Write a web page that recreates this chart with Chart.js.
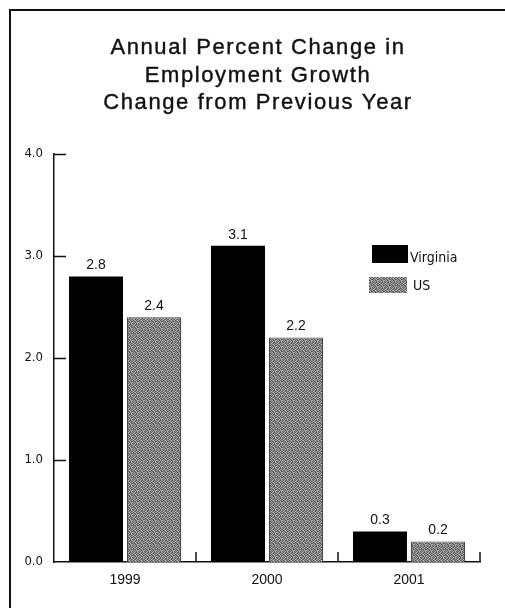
<!DOCTYPE html>
<html>
<head>
<meta charset="utf-8">
<script src="https://cdn.jsdelivr.net/npm/chart.js@4/dist/chart.umd.min.js"></script>
<style>
  html, body { margin: 0; padding: 0; background: #fff; }
  #wrap { position: relative; width: 505px; height: 608px; overflow: hidden; }
  #frame { position: absolute; left: 9px; top: 9px; width: 600px; height: 700px;
           border-top: 2px solid #111; border-left: 2px solid #111; pointer-events: none; }
  canvas { position: absolute; left: 0; top: 0; }
</style>
</head>
<body>
<div id="wrap">
  <canvas id="chart" width="505" height="608"></canvas>
  <div id="frame"></div>
</div>
<script>
// Employment growth, annual percent change
const years = ['1999', '2000', '2001'];
const virginia = [2.8, 3.1, 0.3];
const us = [2.4, 2.2, 0.2];
const yTicks = [0, 1, 2, 3, 4];
const titleLines = ['Annual Percent Change in', 'Employment Growth', 'Change from Previous Year'];
const seriesNames = ['Virginia', 'US'];

// Speckled grey fill for the US bars
function makeGrain() {
  const c = document.createElement('canvas');
  c.width = 6; c.height = 6;
  const g = c.getContext('2d');
  const shades = [
    140,  90, 180, 115,  75, 160,
    105, 190, 125,  85, 165, 110,
    170,  80, 135, 200, 100, 130,
     95, 150,  90, 120, 185,  80,
    185, 115, 165,  75, 130, 155,
     85, 140, 105, 175,  95, 190
  ];
  const img = g.createImageData(6, 6);
  shades.forEach((s, i) => {
    img.data[i * 4] = s; img.data[i * 4 + 1] = s; img.data[i * 4 + 2] = s; img.data[i * 4 + 3] = 255;
  });
  g.putImageData(img, 0, 0);
  return g.createPattern(c, 'repeat');
}
const grain = makeGrain();

const bodyFont = "'Liberation Sans', Arial, sans-serif";
const narrowFont = "'Liberation Sans Narrow', 'DejaVu Sans Condensed', 'Liberation Sans', sans-serif";

// Title drawn with a little letter spacing, centred over the page
const titlePlugin = {
  id: 'spacedTitle',
  afterDraw(chart) {
    const ctx = chart.ctx;
    ctx.save();
    ctx.fillStyle = '#111';
    ctx.strokeStyle = '#111';
    ctx.lineWidth = 0.4;
    ctx.font = '22px ' + bodyFont;
    ctx.textAlign = 'center';
    ctx.textBaseline = 'middle';
    if ('letterSpacing' in ctx) ctx.letterSpacing = '1.6px';
    const ys = [48, 75.5, 103];
    titleLines.forEach((t, i) => {
      ctx.fillText(t, 258, ys[i]);
      ctx.strokeText(t, 258, ys[i]);
    });
    ctx.restore();
  }
};

// Short tick marks pointing into the plot
const innerTicks = {
  id: 'innerTicks',
  afterDraw(chart) {
    const ctx = chart.ctx;
    const xs = chart.scales.x, ys = chart.scales.y;
    const area = chart.chartArea;
    ctx.save();
    ctx.strokeStyle = '#111';
    ctx.lineWidth = 1.5;
    ctx.beginPath();
    yTicks.forEach(v => {
      const y = Math.round(ys.getPixelForValue(v)) + 0.5;
      if (v === 0) return;
      ctx.moveTo(area.left, y);
      ctx.lineTo(area.left + 12, y);
    });
    for (let i = 0; i < years.length; i++) {
      const half = (xs.getPixelForValue(1) - xs.getPixelForValue(0)) / 2;
      const x = Math.round(xs.getPixelForValue(i) + half);
      ctx.moveTo(x, area.bottom);
      ctx.lineTo(x, area.bottom - 10);
    }
    ctx.stroke();
    ctx.restore();
  }
};

// Value written above each bar
const valueLabels = {
  id: 'valueLabels',
  afterDatasetsDraw(chart) {
    const ctx = chart.ctx;
    ctx.save();
    ctx.fillStyle = '#111';
    ctx.font = '14px ' + bodyFont;
    ctx.textAlign = 'center';
    ctx.textBaseline = 'middle';
    chart.data.datasets.forEach((ds, di) => {
      chart.getDatasetMeta(di).data.forEach((bar, i) => {
        ctx.fillText(ds.data[i].toFixed(1), bar.x, bar.y - 11);
      });
    });
    ctx.restore();
  }
};

// Legend box inside the plot, upper right
const boxLegend = {
  id: 'boxLegend',
  afterDraw(chart) {
    const ctx = chart.ctx;
    ctx.save();
    const items = [
      { fill: '#000', rect: [372, 245, 36, 18], tx: 410, ty: 258 },
      { fill: grain, rect: [369, 277, 38, 16], tx: 413, ty: 286 }
    ];
    ctx.font = '14px ' + narrowFont;
    ctx.textBaseline = 'middle';
    ctx.textAlign = 'left';
    items.forEach((it, i) => {
      ctx.fillStyle = it.fill;
      ctx.fillRect(...it.rect);
      ctx.fillStyle = '#111';
      ctx.fillText(seriesNames[i], it.tx, it.ty);
    });
    ctx.restore();
  }
};

new Chart(document.getElementById('chart'), {
  type: 'bar',
  data: {
    labels: years,
    datasets: [
      { label: seriesNames[0], data: virginia, backgroundColor: '#000', borderWidth: 0,
        barPercentage: 0.931, categoryPercentage: 0.817 },
      { label: seriesNames[1], data: us, backgroundColor: grain, borderColor: '#444', borderWidth: 1,
        barPercentage: 0.931, categoryPercentage: 0.817 }
    ]
  },
  options: {
    responsive: false,
    animation: false,
    events: [],
    layout: { padding: { top: 154, right: 25, bottom: 0, left: 0 } },
    plugins: {
      legend: { display: false },
      title: { display: false },
      tooltip: { enabled: false }
    },
    scales: {
      x: {
        grid: { display: false, drawTicks: false },
        border: { display: true, color: '#111', width: 1.5 },
        ticks: { color: '#111', padding: 10, font: { family: bodyFont, size: 14 } },
        afterFit(s) { s.height = 46; }
      },
      y: {
        min: 0, max: 4,
        grid: { display: false, drawTicks: false },
        border: { display: true, color: '#111', width: 1.5 },
        ticks: {
          stepSize: 1, color: '#111', padding: 11,
          font: { family: narrowFont, size: 13 },
          callback: v => Number(v).toFixed(1)
        },
        afterFit(s) { s.width = 54; }
      }
    }
  },
  plugins: [titlePlugin, innerTicks, valueLabels, boxLegend]
});
</script>
</body>
</html>
